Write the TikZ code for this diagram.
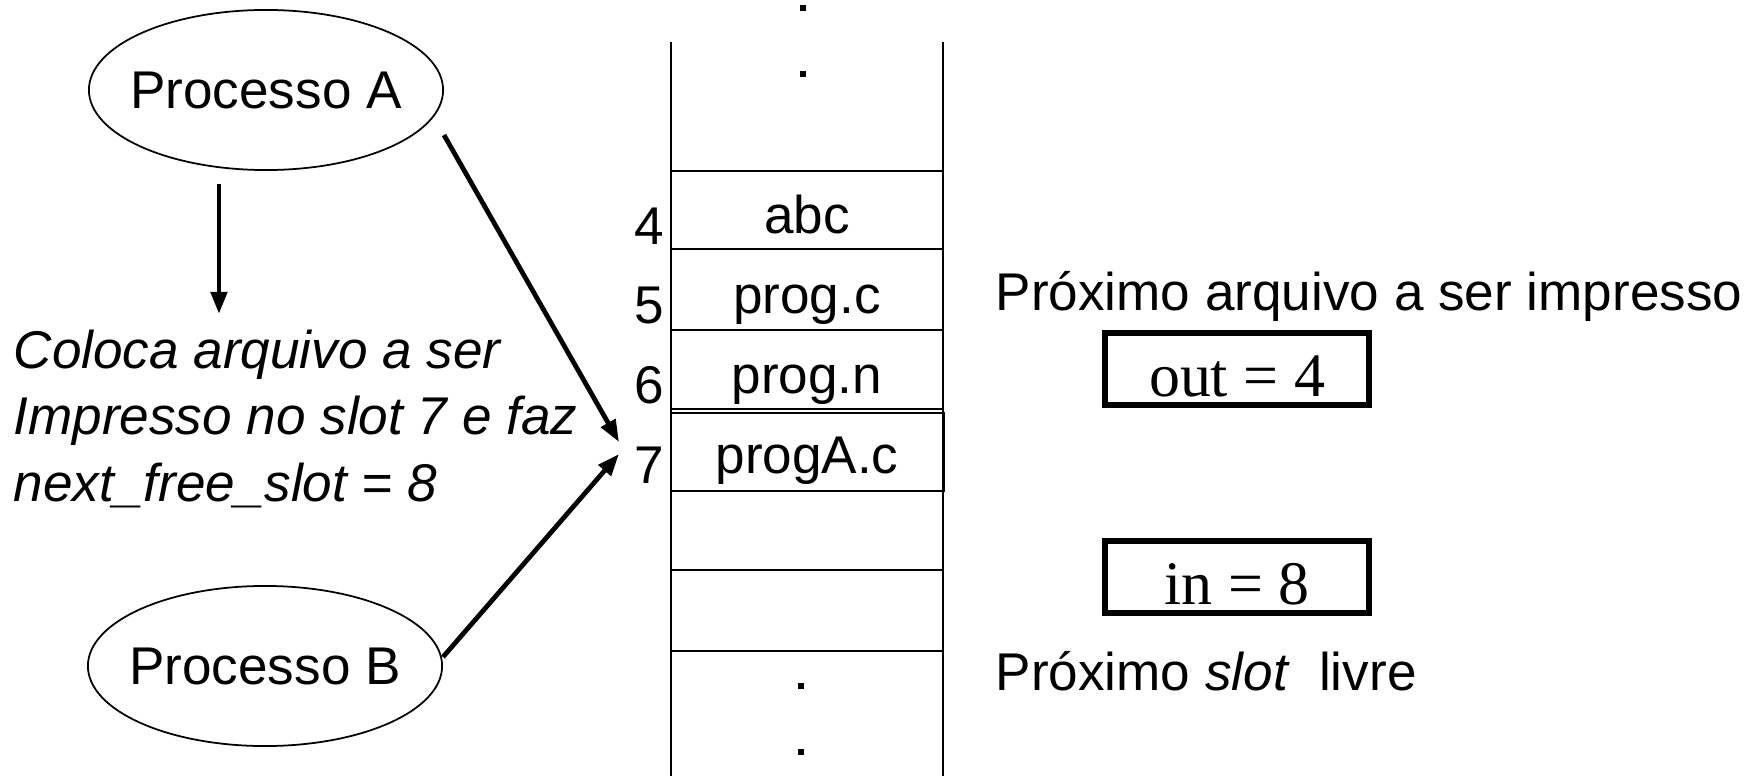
\documentclass[tikz,border=0pt]{standalone}
\usepackage{fontspec}
\setmainfont{Liberation Sans}
\newfontfamily\timesfont{Liberation Serif}
\usetikzlibrary{arrows.meta,shapes.geometric}

\begin{document}
\begin{tikzpicture}[x=0.01cm,y=-0.01cm,
		font=\fontsize{15.1}{18.9}\selectfont,
		proc/.style={draw, ellipse, line width=0.5pt, minimum width=3.54cm, minimum height=1.6cm},
		arr/.style={-{Triangle[length=0.22cm,width=0.16cm]}, line width=1.35pt},
		colline/.style={line width=0.5pt},
		cell/.style={anchor=base, inner sep=0pt},
		slotnum/.style={anchor=base, inner sep=0pt},
		varbox/.style={draw, line width=1.7pt, minimum width=2.63cm, minimum height=0.71cm,
			inner sep=0pt, text height=0.6cm, text depth=0.05cm,
			font=\timesfont\fontsize{17.6}{20}\selectfont}]
		\useasboundingbox (0,0) rectangle (1761,776);

		%% processes
		\node[proc, label=center:{Processo A}] (procA) at (266,90) {};
		\node[proc, label=center:{Processo B}] (procB) at (265,666) {};

		\node[anchor=north west, inner sep=0pt, align=left, font=\fontsize{15.1}{18.9}\selectfont\itshape]
			(note) at (13,329) {Coloca arquivo a ser\\Impresso no slot 7 e faz\\next\_free\_slot = 8};

		%% spooler directory
		\draw[colline] (671,42) -- (671,776) (943,42) -- (943,776);
		\foreach \y in {171,249,330,409,570,651}
			\draw[colline] (671,\y) -- (943,\y);
		\draw[line width=0.8pt] (671,413) rectangle (944,491);

		\foreach \x/\y in {803/8, 803/74, 801/686, 801/752}
			\fill (\x-3,\y-3) rectangle ++(6,6);

		\node[slotnum] (n4) at (649,245) {4};
		\node[slotnum] (n5) at (649,323) {5};
		\node[slotnum] (n6) at (649,403) {6};
		\node[slotnum] (n7) at (649,483) {7};

		\node[cell] (c4) at (807,233) {abc};
		\node[cell] (c5) at (807,313) {prog.c};
		\node[cell] (c6) at (807,393) {prog.n};
		\node[cell] (c7) at (807,473) {progA.c};

		%% shared variables
		\node[anchor=base west, inner sep=0pt] (nextout) at (995,310) {Próximo arquivo a ser impresso};
		\node[varbox] (out) at (1237,369) {out = 4};
		\node[varbox] (in) at (1237,577) {in = 8};
		\node[anchor=base west, inner sep=0pt] (nextin) at (995,690) {Próximo \textit{slot} ~livre};

		%% arrows
		\coordinate (tipA) at (619,442);
		\coordinate (tipB) at (619,454);
		\draw[arr] ([xshift=-0.47cm,yshift=-0.13cm]procA.south) -- ++(0,130);
		\draw[arr] ([yshift=-0.45cm]procA.east) -- (tipA);
		\draw[arr] ([yshift=0.09cm]procB.east) -- (tipB);
\end{tikzpicture}
\end{document}
